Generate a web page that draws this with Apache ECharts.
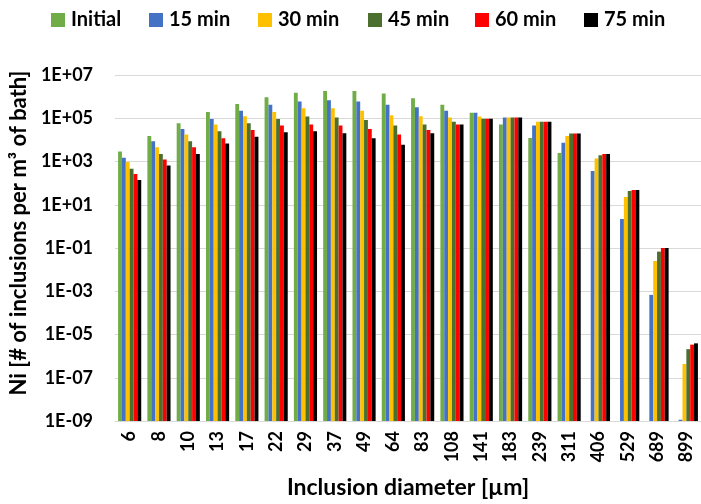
<!DOCTYPE html>
<html><head><meta charset="utf-8">
<script src="https://cdn.jsdelivr.net/npm/echarts@6/dist/echarts.min.js"></script>
<style>html,body{margin:0;padding:0;background:#fff}#c{width:701px;height:504px}</style>
</head><body><div id="c"></div>
<script>
const categories = ['6','8','10','13','17','22','29','37','49','64','83','108','141','183','239','311','406','529','689','899'];
const seriesNames = ['Initial','15 min','30 min','45 min','60 min','75 min'];
const seriesColors = ['#70AD47','#4472C4','#FFC000','#4A6F2F','#FF0000','#000000'];
const initialVals = [2900,15000,59000,195000,457000,933000,1.5e6,1.8e6,1.8e6,1.4e6,830000,417000,178000,52000,12300,2500,null,null,null,null];
const min15Vals = [1500,8700,32000,93000,224000,417000,589000,676000,589000,417000,324000,224000,178000,107000,46000,7400,365,2.2,6.8e-4,1.15e-9];
const min30Vals = [950,4600,17800,52000,123000,195000,288000,288000,224000,138000,123000,107000,120000,107000,68000,15000,1380,23,0.025,4.3e-7];
const min45Vals = [460,2200,8700,25000,59000,93000,120000,107000,83000,46000,52000,68000,95000,107000,68000,19500,1950,43,0.068,2.1e-6];
const min60Vals = [263,1230,4600,12000,29000,46000,52000,46000,32000,17800,29000,52000,95000,107000,68000,19500,2240,48,0.1,3.4e-6];
const min75Vals = [138,660,2200,6800,13800,22400,25000,20400,12000,5900,20400,52000,95000,107000,68000,19500,2240,48,0.1,3.9e-6];
const allVals = [initialVals,min15Vals,min30Vals,min45Vals,min60Vals,min75Vals];

const FONT = 'Lato';
const legendLefts = [46,144,253,363,470,579];
function fmtE(v){
  const e = Math.round(Math.log10(v));
  return '1E' + (e < 0 ? '-' : '+') + String(Math.abs(e)).padStart(2,'0');
}
const chart = echarts.init(document.getElementById('c'), null, {renderer:'canvas'});
chart.setOption({
  animation:false,
  textStyle:{fontFamily:FONT},
  legend: seriesNames.map((n,i)=>({
    top:5, left:legendLefts[i], itemWidth:14, itemHeight:14,
    icon:'rect', selectedMode:false,
    textStyle:{fontFamily:FONT,fontWeight:'bold',fontSize:20,color:'#000',padding:[0,0,0,1]},
    data:[n]
  })),
  grid:{left:114, right:-3, top:75, bottom:83, containLabel:false},
  xAxis:{
    type:'category', data:categories,
    axisLine:{show:true,lineStyle:{color:'#d9d9d9',width:1}},
    axisTick:{show:false},
    axisLabel:{rotate:90, margin:10, fontFamily:FONT, fontWeight:'bold', fontSize:18, color:'#000', interval:0},
    name:'Inclusion diameter [µm]', nameLocation:'middle', nameGap:55,
    nameTextStyle:{fontFamily:FONT,fontWeight:'bold',fontSize:23,color:'#000'}
  },
  yAxis:{
    type:'log', logBase:10, min:1e-9, max:1e7, interval:2, startValue:1e-9,
    axisLine:{show:false}, axisTick:{show:false},
    splitLine:{show:true,lineStyle:{color:'#d9d9d9',width:1}},
    minorTick:{show:false}, minorSplitLine:{show:false},
    axisLabel:{formatter:fmtE, margin:22, fontFamily:FONT, fontWeight:'bold', fontSize:18, color:'#000'},
    name:'Ni [# of inclusions per m³ of bath]', nameLocation:'middle', nameGap:80, nameRotate:90,
    nameTextStyle:{fontFamily:FONT,fontWeight:'bold',fontSize:22,color:'#000',padding:[0,0,0,30]}
  },
  series: seriesNames.map((n,i)=>({
    name:n, type:'bar', data:allVals[i], barGap:'0%', barCategoryGap:'21%',
    itemStyle:{color:seriesColors[i]}
  }))
});
</script>
</body></html>
